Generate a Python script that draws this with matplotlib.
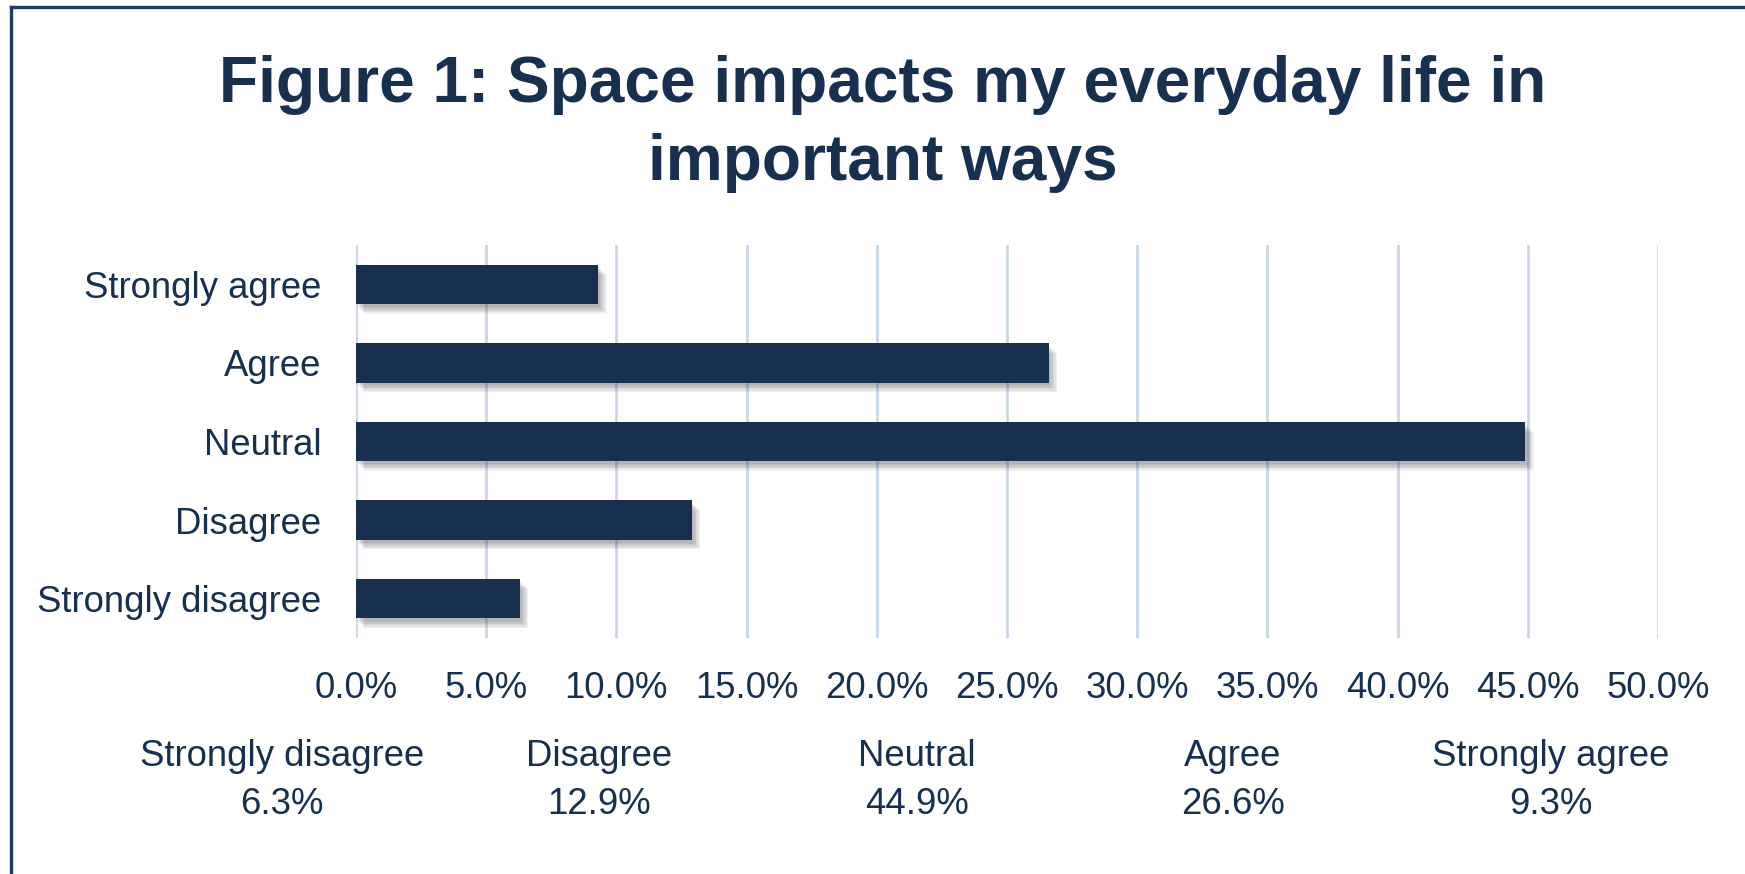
import matplotlib
matplotlib.use("Agg")
import matplotlib.pyplot as plt
import matplotlib.patheffects as pe
from matplotlib.lines import Line2D

categories = ["Strongly disagree", "Disagree", "Neutral", "Agree", "Strongly agree"]
values = [6.3, 12.9, 44.9, 26.6, 9.3]
xticks = [0, 5, 10, 15, 20, 25, 30, 35, 40, 45, 50]
title_lines = ["Figure 1: Space impacts my everyday life in", "important ways"]

NAVY = "#17304F"
GRID = "#C9D7EB"
W, H = 1745, 874
FS = 26.3

plt.rcParams['font.family'] = ['Liberation Sans', 'DejaVu Sans']

fig = plt.figure(figsize=(W / 100, H / 100), dpi=100)
fig.patch.set_facecolor("white")

# axes placement in pixels
x0, x1 = 356, 1658
y_top, y_bot = 245, 638
ax = fig.add_axes([x0 / W, 1 - y_bot / H, (x1 - x0) / W, (y_bot - y_top) / H])

ypos = list(range(len(categories)))
bars = ax.barh(ypos, values, height=0.5, color=NAVY, zorder=3)
shadow = [pe.SimplePatchShadow(offset=(1 + k, -(2 + k)), shadow_rgbFace="#333333", alpha=0.07)
          for k in range(6)]
for b in bars:
    b.set_path_effects(shadow + [pe.Normal()])

ax.set_xlim(0, 50)
ax.set_ylim(-0.5, len(categories) - 0.5)
ax.set_xticks(xticks)
ax.set_xticklabels([f"{v:.1f}%" for v in xticks])
ax.set_yticks(ypos)
ax.set_yticklabels(categories)
ax.tick_params(axis="both", length=0, labelsize=FS, colors=NAVY)
ax.tick_params(axis="x", pad=24)
ax.tick_params(axis="y", pad=25)
ax.grid(axis="x", color=GRID, linewidth=2, zorder=0)
for s in ax.spines.values():
    s.set_visible(False)

# title (two lines, baselines placed)
for line, base in zip(title_lines, [102, 180]):
    fig.text(883 / W, 1 - base / H, line, ha="center", va="baseline", fontsize=46.1,
             fontweight="bold", color=NAVY)

# data table below
centers = [282, 599, 917, 1233, 1551]
for c, cat, v in zip(centers, categories, values):
    fig.text(c / W, 1 - 757 / H, cat, ha="center", va="center", fontsize=FS, color=NAVY)
    fig.text(c / W, 1 - 805 / H, f"{v:.1f}%", ha="center", va="center", fontsize=FS, color=NAVY)

# border (top & left)
fig.add_artist(Line2D([11 / W, 11 / W], [0, 1 - 6.5 / H], color="#1F3A5F", linewidth=2.4,
                      transform=fig.transFigure))
fig.add_artist(Line2D([11 / W, 1], [1 - 6.5 / H, 1 - 6.5 / H], color="#1F3A5F", linewidth=2.4,
                      transform=fig.transFigure))

fig.savefig("out.png", dpi=100, facecolor="white")
